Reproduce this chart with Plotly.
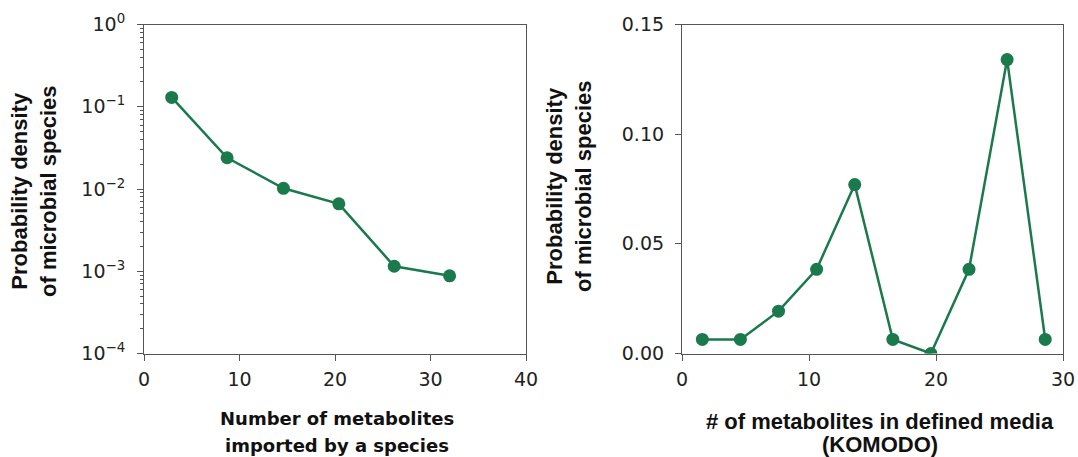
import plotly.graph_objects as go

# Left panel: metabolites imported per species (log-scale density)
imported_x = [2.9, 8.7, 14.6, 20.4, 26.2, 32.0]
imported_density = [0.13, 0.024, 0.0102, 0.0066, 0.00115, 0.00088]

# Right panel: metabolites in defined media (KOMODO)
media_x = [1.6, 4.6, 7.6, 10.6, 13.6, 16.6, 19.6, 22.6, 25.6, 28.6]
media_density = [0.0064, 0.0064, 0.0193, 0.0384, 0.077, 0.0064, 0.0, 0.0384, 0.134, 0.0064]

left_xticks = [0, 10, 20, 30, 40]
left_yticks = [1e-4, 1e-3, 1e-2, 1e-1, 1e0]
left_yticktext = ["10<sup>−4</sup>", "10<sup>−3</sup>", "10<sup>−2</sup>", "10<sup>−1</sup>", "10<sup>0</sup>"]
right_xticks = [0, 10, 20, 30]
right_yticks = [0.0, 0.05, 0.10, 0.15]
right_yticktext = ["0.00", "0.05", "0.10", "0.15"]

GREEN = "#1a7a4c"
AXC = "#555555"
W, H = 1078, 457

fig = go.Figure()
fig.add_trace(go.Scatter(x=imported_x, y=imported_density, mode="lines+markers",
                         line=dict(color=GREEN, width=2.5),
                         marker=dict(color=GREEN, size=13),
                         xaxis="x", yaxis="y", showlegend=False))
fig.add_trace(go.Scatter(x=media_x, y=media_density, mode="lines+markers",
                         line=dict(color=GREEN, width=2.5),
                         marker=dict(color=GREEN, size=13),
                         xaxis="x2", yaxis="y2", showlegend=False))

tickfont = dict(family="DejaVu Sans", size=19, color="#222222")
common = dict(showline=True, linecolor=AXC, linewidth=1.2, mirror=True,
              ticks="outside", ticklen=6, tickcolor=AXC, tickwidth=1.2,
              showgrid=False, zeroline=False, tickfont=tickfont,
              automargin=False)

minor_vals = [k * 10 ** e for e in range(-4, 0) for k in range(2, 10)]

ydom = [1 - 353.5 / H, 1 - 24.5 / H]
fig.update_layout(
    width=W, height=H,
    margin=dict(l=0, r=0, t=0, b=0, pad=0),
    paper_bgcolor="white", plot_bgcolor="white",
    xaxis=dict(domain=[144 / W, 526 / W], range=[0, 40], tickvals=left_xticks,
               anchor="y", ticklabelstandoff=3, **common),
    yaxis=dict(domain=ydom, type="log", range=[-4, 0], tickvals=left_yticks,
               ticktext=left_yticktext, anchor="x", ticklabelstandoff=8,
               minor=dict(ticks="outside", ticklen=3, tickcolor=AXC,
                          tickmode="array", tickvals=minor_vals, showgrid=False),
               **common),
    xaxis2=dict(domain=[682 / W, 1063 / W], range=[0, 30], tickvals=right_xticks,
                anchor="y2", ticklabelstandoff=3, **common),
    yaxis2=dict(domain=ydom, range=[0, 0.15], tickvals=right_yticks,
                ticktext=right_yticktext, anchor="x2", ticklabelstandoff=7, **common),
)

def px(xp, yp):
    return xp / W, 1 - yp / H

annots = []
# Left x title (DejaVu)
for txt, yp in [("Number of metabolites", 418), ("imported by a species", 445)]:
    x, y = px(337, yp)
    annots.append(dict(text=txt, x=x, y=y, xref="paper", yref="paper",
                       xanchor="center", yanchor="middle", showarrow=False,
                       font=dict(family="DejaVu Sans", size=18, color="#111111", weight="bold")))
# Right x title (bold Arial-like)
for txt, yp in [("# of metabolites in defined media", 421), ("(KOMODO)", 444)]:
    x, y = px(880, yp)
    annots.append(dict(text=txt, x=x, y=y, xref="paper", yref="paper",
                       xanchor="center", yanchor="middle", showarrow=False,
                       font=dict(family="Liberation Sans", size=22, color="#111111", weight="bold")))
# Y titles
for cx, cy in [(34, 191), (569, 186)]:
    x, y = px(cx, cy)
    annots.append(dict(text="Probability density<br>of microbial species", x=x, y=y,
                       xref="paper", yref="paper", xanchor="center", yanchor="middle",
                       showarrow=False, textangle=-90,
                       font=dict(family="Liberation Sans", size=22, color="#111111", weight="bold")))
# Cut-off caption fragment at the very top
x, y = px(389, -1)
annots.append(dict(text="supplied by organisms", x=x, y=y, xref="paper", yref="paper",
                   xanchor="center", yanchor="bottom", showarrow=False,
                   font=dict(family="Liberation Serif", size=40, color="#111111")))
fig.update_layout(annotations=annots)

fig.write_html("out.html", config={"displayModeBar": False},
               post_script="document.body.style.margin='0';")
